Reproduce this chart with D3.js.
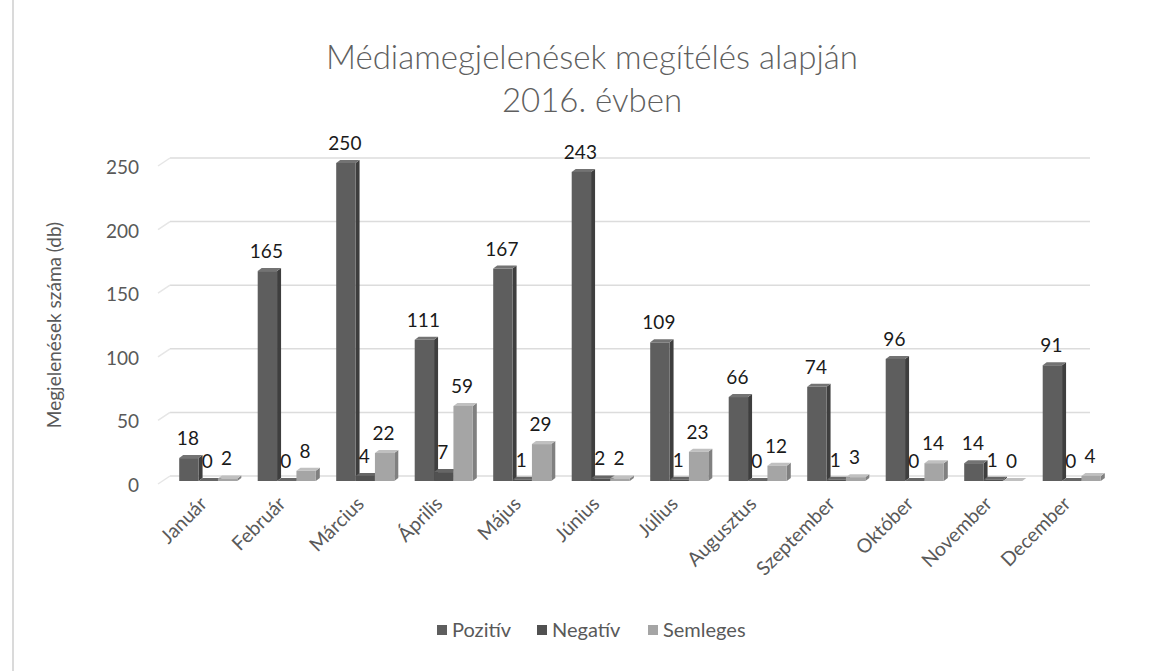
<!DOCTYPE html>
<html>
<head>
<meta charset="utf-8">
<script src="https://cdn.jsdelivr.net/npm/d3@7"></script>
<style>
  body { margin: 0; background: #fff; }
  svg { display: block; font-family: Lato, "Open Sans", sans-serif; }
</style>
</head>
<body>
<svg id="chart" width="1163" height="671"></svg>
<script>
// data
const months = ["Január", "Február", "Március", "Április", "Május", "Június",
  "Július", "Augusztus", "Szeptember", "Október", "November", "December"];
const series = ["Pozitív", "Negatív", "Semleges"];
const pozitiv = [18, 165, 250, 111, 167, 243, 109, 66, 74, 96, 14, 91];
const negativ = [0, 0, 4, 7, 1, 2, 1, 0, 1, 0, 1, 0];
const semleges = [2, 8, 22, 59, 29, 2, 23, 12, 3, 14, 0, 4];
const yTicks = [0, 50, 100, 150, 200, 250];

const values = [pozitiv, negativ, semleges];
const fronts = ["#5e5e5e", "#515151", "#a5a5a5"];
const sides = ["#3e3e3e", "#353535", "#808080"];
const tops = ["#737373", "#666", "#c0c0c0"];

const svg = d3.select("#chart");
const base = 481;
const dx = 4, dy = 3;

const y = d3.scaleLinear().domain([0, 250]).range([base, 163]);
const x0 = d3.scaleBand().domain(months).range([169, 1111])
  .paddingInner(0.26).paddingOuter(0.13);
const x1 = d3.scaleBand().domain(series).range([0, x0.bandwidth()]);

// left frame line
svg.append("line").attr("x1", 13).attr("x2", 13).attr("y1", 0).attr("y2", 671)
  .attr("stroke", "#dadada").attr("stroke-width", 2);

// title
svg.append("text").attr("x", 592).attr("y", 69).attr("text-anchor", "middle")
  .attr("font-size", 33).attr("font-weight", 300).attr("fill", "#5f5f5f")
  .text("Médiamegjelenések megítélés alapján");
svg.append("text").attr("x", 592).attr("y", 112).attr("text-anchor", "middle")
  .attr("font-size", 33).attr("font-weight", 300).attr("fill", "#5f5f5f")
  .text("2016. évben");

// gridlines (back wall)
svg.append("g").selectAll("line").data(yTicks).join("line")
  .attr("x1", 170).attr("x2", 1090)
  .attr("y1", d => y(d) - 5).attr("y2", d => y(d) - 5)
  .attr("stroke", "#dcdcdc").attr("stroke-width", 1.5);
svg.append("g").selectAll("line").data(yTicks).join("line")
  .attr("x1", 158).attr("x2", 170)
  .attr("y1", d => y(d) + 3).attr("y2", d => y(d) - 5)
  .attr("stroke", "#e6e6e6").attr("stroke-width", 1.5);

// y tick labels
svg.append("g").selectAll("text").data(yTicks).join("text")
  .attr("x", 139).attr("y", d => y(d) + 11)
  .attr("text-anchor", "end").attr("font-size", 19).attr("fill", "#595959")
  .text(d => d);

// y axis title
svg.append("text")
  .attr("transform", "translate(61,325) rotate(-90)")
  .attr("text-anchor", "middle").attr("font-size", 19).attr("fill", "#595959")
  .text("Megjelenések száma (db)");

// bars
const bars = svg.append("g");
months.forEach((m, i) => {
  series.forEach((s, k) => {
    const v = values[k][i];
    const bx = x0(m) + x1(s), w = x1.bandwidth(), top = y(v);
    const g = bars.append("g");
    g.append("polygon")
      .attr("points", [[bx + w, top], [bx + w + dx, top - dy], [bx + w + dx, base - dy], [bx + w, base]].join(" "))
      .attr("fill", sides[k]);
    g.append("polygon")
      .attr("points", [[bx, top], [bx + dx, top - dy], [bx + w + dx, top - dy], [bx + w, top]].join(" "))
      .attr("fill", tops[k]);
    g.append("rect").attr("x", bx).attr("y", top)
      .attr("width", w).attr("height", base - top)
      .attr("fill", fronts[k]);
  });
});

// data labels
const labels = svg.append("g").attr("font-size", 19).attr("fill", "#1a1a1a");
months.forEach((m, i) => {
  series.forEach((s, k) => {
    const v = values[k][i];
    labels.append("text")
      .attr("x", x0(m) + x1(s) + x1.bandwidth() / 2 - 1)
      .attr("y", y(v) - dy - 10)
      .attr("text-anchor", "middle")
      .text(v);
  });
});

// month labels
svg.append("g").selectAll("text").data(months).join("text")
  .attr("transform", d => `translate(${x0(d) + x0.bandwidth() / 2},${505}) rotate(-45)`)
  .attr("text-anchor", "end").attr("font-size", 19.5).attr("fill", "#595959")
  .text(d => d);

// legend
const legendX = [437, 537, 648];
const legend = svg.append("g");
series.forEach((s, k) => {
  legend.append("rect").attr("x", legendX[k]).attr("y", 625)
    .attr("width", 10).attr("height", 10).attr("fill", fronts[k]);
  legend.append("text").attr("x", legendX[k] + 15).attr("y", 637)
    .attr("font-size", 20).attr("fill", "#595959").text(s);
});
</script>
</body>
</html>
